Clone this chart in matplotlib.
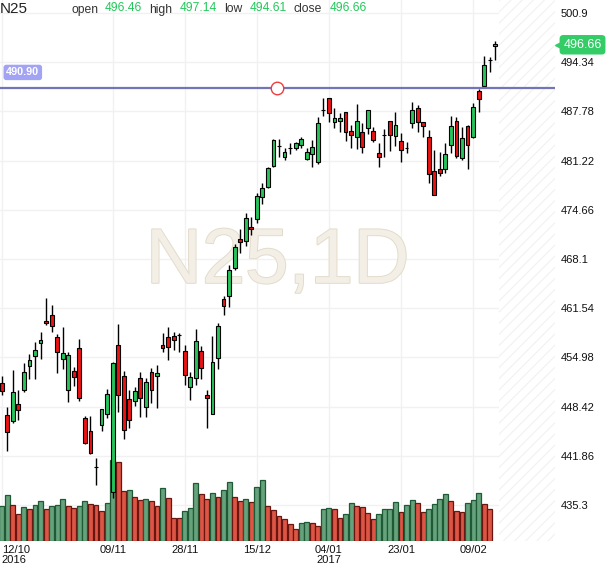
import numpy as np
import matplotlib.pyplot as plt
import matplotlib.patheffects as pe

symbol = 'N25'
timeframe = '1D'

opens = [451.52, 447.30, 446.54, 448.72, 450.59, 453.88, 455.21, 456.94, 459.70, 460.63,
         457.70, 454.72, 450.59, 453.17, 456.19, 446.86, 445.12, 440.35, 445.92, 447.48,
         437.08, 456.59, 452.46, 449.43, 449.12, 452.19, 448.32, 452.99, 452.54, 456.59,
         457.66, 457.79, 458.01, 455.83, 451.08, 452.19, 455.83, 449.97, 447.48, 454.94,
         462.72, 463.21, 466.86, 470.72, 470.54, 472.41, 473.39, 476.41, 477.66, 480.50,
         483.15, 481.74, 482.88, 482.94, 483.26, 481.48, 482.10, 480.99, 487.99, 489.52,
         486.32, 486.46, 487.66, 485.17, 484.32, 484.99, 485.52, 485.12, 482.23, 484.65,
         486.46, 484.46, 483.79, 482.96, 486.19, 488.19, 486.32, 484.32, 479.83, 480.10,
         480.06, 483.26, 486.46, 481.52, 485.79, 484.41, 490.54, 491.21, 494.62, 496.46]
highs = [452.50, 448.41, 453.30, 450.63, 454.28, 455.43, 457.08, 458.41, 462.86, 461.97,
         458.10, 459.08, 455.74, 453.74, 457.39, 447.17, 447.21, 441.52, 448.14, 450.77,
         454.41, 459.43, 453.21, 450.63, 451.08, 452.99, 452.19, 453.52, 453.97, 458.28,
         458.99, 458.41, 458.28, 456.59, 452.99, 458.72, 456.50, 450.63, 457.83, 459.61,
         463.17, 467.30, 470.10, 472.06, 474.19, 473.74, 476.94, 478.19, 480.30, 484.06,
         484.06, 482.86, 483.52, 483.74, 484.30, 482.86, 483.97, 486.99, 489.52, 489.60,
         488.19, 487.52, 487.70, 485.97, 488.72, 486.19, 487.97, 485.74, 483.61, 485.39,
         486.50, 487.65, 484.86, 483.74, 488.99, 488.63, 486.40, 485.30, 482.63, 482.41,
         483.61, 487.17, 487.08, 485.74, 485.97, 488.86, 490.77, 495.17, 495.08, 497.14]
lows = [449.97, 442.54, 446.28, 446.63, 450.41, 452.14, 452.14, 454.81, 459.30, 458.41,
        452.94, 453.39, 449.08, 451.17, 449.21, 443.39, 442.10, 437.97, 445.21, 446.86,
        436.19, 447.74, 444.06, 445.57, 448.50, 447.08, 447.08, 448.94, 448.28, 455.74,
        454.59, 455.97, 455.74, 451.34, 449.30, 451.26, 452.14, 445.52, 447.43, 453.39,
        460.63, 461.74, 466.63, 468.94, 469.83, 471.30, 472.95, 475.39, 477.50, 480.32,
        481.66, 481.30, 482.10, 482.63, 482.86, 481.30, 480.41, 480.77, 487.17, 486.41,
        485.52, 485.08, 483.88, 482.86, 482.72, 482.28, 484.72, 483.74, 480.41, 481.74,
        482.54, 483.17, 481.08, 482.19, 485.52, 485.08, 484.32, 478.19, 476.60, 479.21,
        479.52, 482.19, 481.52, 481.30, 480.06, 484.28, 487.75, 491.08, 493.08, 494.61]
closes = [450.54, 445.08, 450.32, 447.92, 452.99, 454.63, 455.92, 457.30, 459.52, 459.12,
          455.66, 455.57, 455.26, 452.41, 449.52, 443.61, 442.19, 440.30, 448.06, 450.06,
          454.19, 449.92, 445.26, 446.59, 450.46, 449.52, 451.66, 450.59, 452.86, 456.28,
          456.32, 457.26, 457.92, 452.59, 452.32, 457.12, 453.52, 449.52, 454.32, 459.12,
          461.88, 466.63, 469.66, 470.32, 473.52, 472.06, 476.50, 477.52, 480.19, 483.97,
          483.10, 482.37, 482.84, 483.52, 484.06, 482.37, 483.03, 486.19, 487.95, 487.52,
          486.86, 486.86, 484.99, 484.59, 486.46, 483.03, 487.92, 483.97, 481.66, 484.61,
          484.59, 485.92, 482.59, 482.92, 487.92, 486.32, 485.79, 479.39, 476.63, 479.52,
          482.10, 485.79, 481.88, 484.19, 483.35, 488.32, 489.39, 493.97, 494.58, 496.66]
# volume (thousands), the current day has none yet
volumes = [34.7, 46.3, 36.3, 27.3, 34.3, 32.3, 36.3, 40.3, 32.3, 35.3,
           35.5, 42.3, 35.3, 33.3, 35.3, 40.3, 37.3, 36.3, 30.3, 38.3,
           81.3, 79.3, 50.3, 51.3, 44.3, 41.3, 42.3, 40.3, 35.3, 53.3,
           43.3, 23.3, 23.0, 30.3, 33.3, 58.3, 46.5, 41.5, 47.5, 43.5,
           50.5, 58.5, 43.5, 39.5, 41.5, 38.7, 53.7, 60.7, 34.7, 30.7,
           24.7, 21.7, 16.7, 11.7, 17.7, 18.7, 17.7, 14.7, 31.7, 32.7,
           31.7, 22.7, 26.7, 37.7, 34.7, 33.7, 27.7, 21.7, 26.7, 31.7,
           32.0, 38.7, 28.7, 35.7, 40.7, 37.7, 28.7, 31.7, 36.7, 41.7,
           46.7, 39.7, 29.7, 28.7, 37.7, 40.7, 47.7, 36.7, 31.7]

price_ticks = [500.9, 494.34, 487.78, 481.22, 474.66, 468.1, 461.54, 454.98, 448.42, 441.86, 435.3]
price_labels = ['500.9', '494.34', '487.78', '481.22', '474.66', '468.1', '461.54',
                '454.98', '448.42', '441.86', '435.3']
date_idx = [0, 20, 33, 46, 59, 72, 85]
date_labels = ['12/10\n2016', '09/11', '28/11', '15/12', '04/01\n2017', '23/01', '09/02']

alert_level = 490.90
alert_x = 49.6


def main():
    plt.rcParams['font.family'] = ['Liberation Sans', 'DejaVu Sans']
    plt.rcParams['hatch.linewidth'] = 0.8

    W, H = 610, 568
    fig = plt.figure(figsize=(W / 100, H / 100), dpi=100)
    rect = [0, 27 / H, 555 / W, 541 / H]
    n = len(opens)
    idx = np.arange(n)
    xlim = (-0.31, 99.77)
    ylim = (430.5, 502.63)

    green = '#28c45a'
    red = '#ec1313'

    # background: grid, hatched future zone, watermark
    bg = fig.add_axes(rect)
    bg.set_xlim(xlim)
    bg.set_ylim(ylim)
    bg.set_xticks(date_idx)
    bg.set_yticks(price_ticks)
    bg.tick_params(length=0, labelbottom=False, labelleft=False)
    bg.grid(True, color='#f1f1f1', lw=1)
    for s in bg.spines.values():
        s.set_visible(False)
    bg.axvspan(n - 0.35, xlim[1], facecolor='white', edgecolor='#f1f1f1',
               hatch='///', lw=0, zorder=2)
    bg.text(0.5, 0.515, f'{symbol},{timeframe}', transform=bg.transAxes,
            ha='center', va='center', fontsize=56, color='#f3efe6', zorder=3,
            path_effects=[pe.Stroke(linewidth=1.4, foreground='#e3dccb'), pe.Normal()])

    # volume
    vax = fig.add_axes(rect)
    vax.patch.set_visible(False)
    vax.set_xlim(xlim)
    vax.set_ylim(0, max(volumes) * 6.65)
    vax.axis('off')
    vup = [i == 0 or volumes[i] >= volumes[i - 1] for i in range(len(volumes))]
    vax.bar(idx[:len(volumes)], volumes, width=0.88,
            color=['#66a37c' if u else '#dc5545' for u in vup],
            edgecolor=['#1e5a36' if u else '#6a1610' for u in vup], lw=0.9)

    # candles
    ax = fig.add_axes(rect)
    ax.patch.set_visible(False)
    ax.set_xlim(xlim)
    ax.set_ylim(ylim)
    o = np.array(opens)
    c = np.array(closes)
    up = c >= o
    body = np.abs(c - o)
    body = np.where(body > 0.1, np.maximum(body, 0.35), body)
    ax.vlines(idx, lows, highs, color='black', lw=1, zorder=2)
    ax.bar(idx, body, bottom=np.minimum(o, c), width=0.7,
           color=np.where(up, green, red), edgecolor='black', lw=0.8, zorder=3)

    ax.axhline(alert_level, color='#7474b8', lw=1.6, zorder=4)
    ax.plot(alert_x, alert_level, 'o', ms=9, mfc='white', mec='#f23c3c', mew=1, zorder=5)
    ax.annotate(f'{alert_level:.2f}', xy=(0, alert_level), xycoords=ax.get_yaxis_transform(),
                xytext=(4.5, 11.2), textcoords='offset points', ha='left', va='center',
                fontsize=7.8, color='white', fontweight='bold',
                bbox=dict(boxstyle='round,pad=0.25', fc='#a3a3f5', ec='none'))
    tag = ax.annotate(f'{closes[-1]:.2f}', xy=(1, closes[-1]), xycoords=ax.get_yaxis_transform(),
                      xytext=(6, 0), textcoords='offset points', ha='left', va='center',
                      fontsize=9, color='white', annotation_clip=False,
                      bbox=dict(boxstyle='round,pad=0.3', fc='#33cc66', ec='none'))
    ax.annotate('', xy=(1, closes[-1]), xycoords=ax.get_yaxis_transform(),
                xytext=(1.5, 0), textcoords='offset points', annotation_clip=False)
    ax.plot([1.006], [closes[-1]], marker='<', ms=5, color='#33cc66',
            transform=ax.get_yaxis_transform(), clip_on=False, zorder=6)

    ax.yaxis.tick_right()
    ax.set_yticks(price_ticks, price_labels)
    ax.set_xticks(date_idx, date_labels)
    ax.tick_params(axis='y', length=0, pad=4.2, labelsize=8, labelcolor='#111111')
    ax.tick_params(axis='x', length=0, pad=3, labelsize=8, labelcolor='#111111')
    for lab in ax.get_xticklabels():
        lab.set_linespacing(0.95)
    ax.get_xticklabels()[0].set_ha('left')
    for s in ax.spines.values():
        s.set_visible(False)

    # header
    def px(x, y):
        return x / W, 1 - y / H

    fig.text(*px(0, 12.7), symbol, fontsize=11, color='#222222', va='baseline')
    names = ['open', 'high', 'low', 'close']
    vals = [opens[-1], highs[-1], lows[-1], closes[-1]]
    name_x = [71, 149, 224, 294]
    val_x = [105, 180, 250, 330]
    for nm, v, nx, vx in zip(names, vals, name_x, val_x):
        fig.text(*px(nx, 12.5), nm, fontsize=8.7, color='#333333', va='baseline')
        fig.text(*px(vx, 10.8), f'{v:.2f}', fontsize=8.7, color='#22c95a', va='baseline')

    fig.savefig('out.png', dpi=100)


if __name__ == "__main__":
    main()
